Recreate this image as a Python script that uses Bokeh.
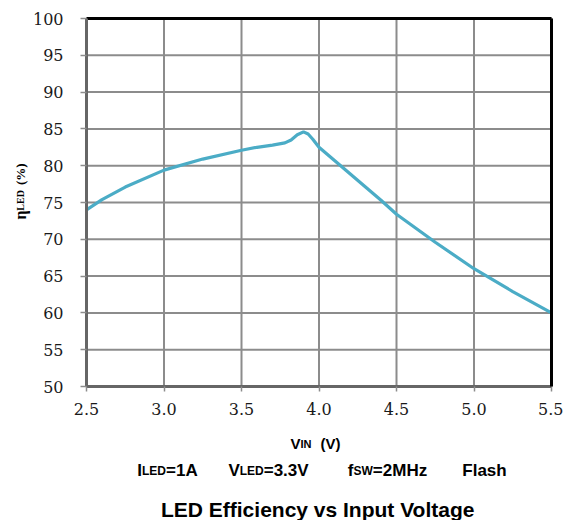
import math
from bokeh.plotting import figure
from bokeh.models import LinearAxis, FixedTicker, NumeralTickFormatter, Range1d
from bokeh.core.properties import value
from bokeh.embed import file_html
from bokeh.resources import INLINE

# ---- data ----
vin = [2.5, 2.6, 2.75, 3.0, 3.25, 3.5, 3.6, 3.7, 3.78, 3.82, 3.86, 3.9,
       3.93, 3.96, 4.0, 4.1, 4.2, 4.3, 4.4, 4.5, 4.75, 5.0, 5.25, 5.5]
eff = [74.0, 75.4, 77.1, 79.4, 80.9, 82.1, 82.5, 82.8, 83.1, 83.5, 84.2, 84.6,
       84.3, 83.6, 82.5, 80.7, 78.9, 77.1, 75.3, 73.4, 69.6, 66.0, 62.9, 60.0]
x_ticks = [2.5, 3.0, 3.5, 4.0, 4.5, 5.0, 5.5]
y_ticks = [50, 55, 60, 65, 70, 75, 80, 85, 90, 95, 100]

title_text = "LED Efficiency vs Input Voltage"
# (text, font size px, gap before in px)
x_label_parts = [("V", 15, 0), ("IN", 11, 0), ("(V)", 15, 9)]
y_label_parts = [("\u03b7", 16, 0), ("LED", 10, 0), ("(%)", 13, 5)]
cond_groups = [
    [("I", 17, 0), ("LED", 12, 0), ("=1A", 17, 0)],
    [("V", 17, 0), ("LED", 12, 0), ("=3.3V", 17, 0)],
    [("f", 17, 0), ("SW", 12, 0), ("=2MHz", 17, 0)],
    [("Flash", 17, 0)],
]

# ---- text width helpers ----
SANS_B = {'I': .278, 'L': .611, 'E': .667, 'D': .722, '=': .584, '1': .556,
          'A': .722, 'V': .667, '3': .556, '.': .278, 'f': .333, 'S': .667,
          'W': .944, '2': .556, 'M': .833, 'H': .722, 'z': .5, 'N': .722,
          '(': .333, ')': .333, ' ': .278, 'F': .611, 'l': .278, 'a': .556,
          's': .556, 'h': .611, 'y': .556, 'c': .556, 'i': .278, 'e': .556,
          'n': .611, 'v': .556, 'p': .611, 'u': .611, 't': .333, 'o': .611,
          'g': .611}
SERIF_B = {'\u03b7': .56, 'L': .667, 'E': .667, 'D': .722, ' ': .25,
           '(': .333, '%': 1.0, ')': .333}


def width(txt, size, table):
    return sum(table.get(c, 0.6) for c in txt) * size


# ---- canvas geometry (pixels) ----
W, H = 563, 520
FL, FR, FT, FB = 86, 551, 18, 386          # plot-area edges in pixels
XPX = (FR - FL) / (x_ticks[-1] - x_ticks[0])
YPX = (FB - FT) / (y_ticks[-1] - y_ticks[0])


def dx(px):
    return x_ticks[0] + (px - FL) / XPX


def dy(py):
    return y_ticks[-1] - (py - FT) / YPX


SERIF = "Liberation Serif"
TICK_SERIF = "DejaVu Serif"
SANS = "Liberation Sans"

p = figure(width=W, height=H, output_backend="svg", toolbar_location=None,
           x_range=Range1d(dx(0), dx(W)), y_range=Range1d(dy(H), dy(0)),
           min_border=0, min_border_left=0, min_border_right=0,
           min_border_top=0, min_border_bottom=0,
           x_axis_type=None, y_axis_type=None)
p.outline_line_color = None
p.xgrid.visible = False
p.ygrid.visible = False
p.background_fill_color = "white"
p.border_fill_color = "white"

axis_gray = "#666666"
grid_gray = "#8c8c8c"
xlo, xhi = x_ticks[0], x_ticks[-1]
ylo, yhi = y_ticks[0], y_ticks[-1]

# grid lines (from tick lists)
p.segment(x0=x_ticks, y0=[ylo] * len(x_ticks), x1=x_ticks, y1=[yhi] * len(x_ticks),
          line_color=grid_gray, line_width=2)
p.segment(x0=[xlo] * len(y_ticks), y0=y_ticks, x1=[xhi] * len(y_ticks), y1=y_ticks,
          line_color=grid_gray, line_width=2)

# data curve
p.line(vin, eff, line_color="#4bacc6", line_width=3.2)

# axes
xaxis = LinearAxis(ticker=FixedTicker(ticks=x_ticks), fixed_location=ylo,
                   bounds=(xlo, xhi), formatter=NumeralTickFormatter(format="0.0"))
xaxis.axis_line_color = axis_gray
xaxis.axis_line_width = 3
xaxis.major_tick_line_color = grid_gray
xaxis.major_tick_line_width = 1.5
xaxis.major_tick_out = 5
xaxis.major_tick_in = 0
xaxis.minor_tick_line_color = None
xaxis.major_label_text_font = TICK_SERIF
xaxis.major_label_text_font_size = "16px"
xaxis.major_label_text_color = "#1a1a1a"
xaxis.major_label_standoff = 11
p.add_layout(xaxis, "below")

yaxis = LinearAxis(ticker=FixedTicker(ticks=y_ticks), fixed_location=xlo,
                   bounds=(ylo, yhi))
yaxis.axis_line_color = axis_gray
yaxis.axis_line_width = 3
yaxis.major_tick_line_color = grid_gray
yaxis.major_tick_line_width = 1.5
yaxis.major_tick_out = 6
yaxis.major_tick_in = 0
yaxis.minor_tick_line_color = None
yaxis.major_label_text_font = TICK_SERIF
yaxis.major_label_text_font_size = "16px"
yaxis.major_label_text_color = "#1a1a1a"
yaxis.major_label_standoff = 17
p.add_layout(yaxis, "left")

for side, loc, bnds in (("above", yhi, (xlo, xhi)), ("right", xhi, (ylo, yhi))):
    ax = LinearAxis(ticker=FixedTicker(ticks=[]), fixed_location=loc, bounds=bnds)
    ax.axis_line_color = "black"
    ax.axis_line_width = 3
    ax.major_tick_line_color = None
    ax.minor_tick_line_color = None
    ax.major_label_text_font_size = "0px"
    p.add_layout(ax, side)

# ---- y-axis title (rotated) ----
total = sum(width(t, s, SERIF_B) + g for t, s, g in y_label_parts)
pos = 191 + total / 2          # pixel y of the start (bottom) of the label
for t, s, g in y_label_parts:
    pos -= g
    p.text(x=[dx(20)], y=[dy(pos)], text=[t], text_font_size=f"{s}px",
           angle=math.pi / 2, text_font=value(SERIF), text_font_style="bold",
           text_color="black", text_align="left", text_baseline="middle")
    pos -= width(t, s, SERIF_B)


# ---- bottom texts ----
def place_row(parts, center_px, baseline_py):
    tot = sum(width(t, s, SANS_B) + g for t, s, g in parts)
    x = center_px - tot / 2
    for t, s, g in parts:
        x += g
        p.text(x=[dx(x)], y=[dy(baseline_py)], text=[t],
               text_font_size=f"{s}px", text_font=value(SANS),
               text_font_style="bold", text_color="black",
               text_align="left", text_baseline="alphabetic")
        x += width(t, s, SANS_B)


place_row(x_label_parts, 315, 443)
for grp, c in zip(cond_groups, [167, 268, 387, 484]):
    place_row(grp, c, 470)
place_row([(title_text, 21, 0)], 318, 509)

open("out.html", "w").write(file_html(p, INLINE))
